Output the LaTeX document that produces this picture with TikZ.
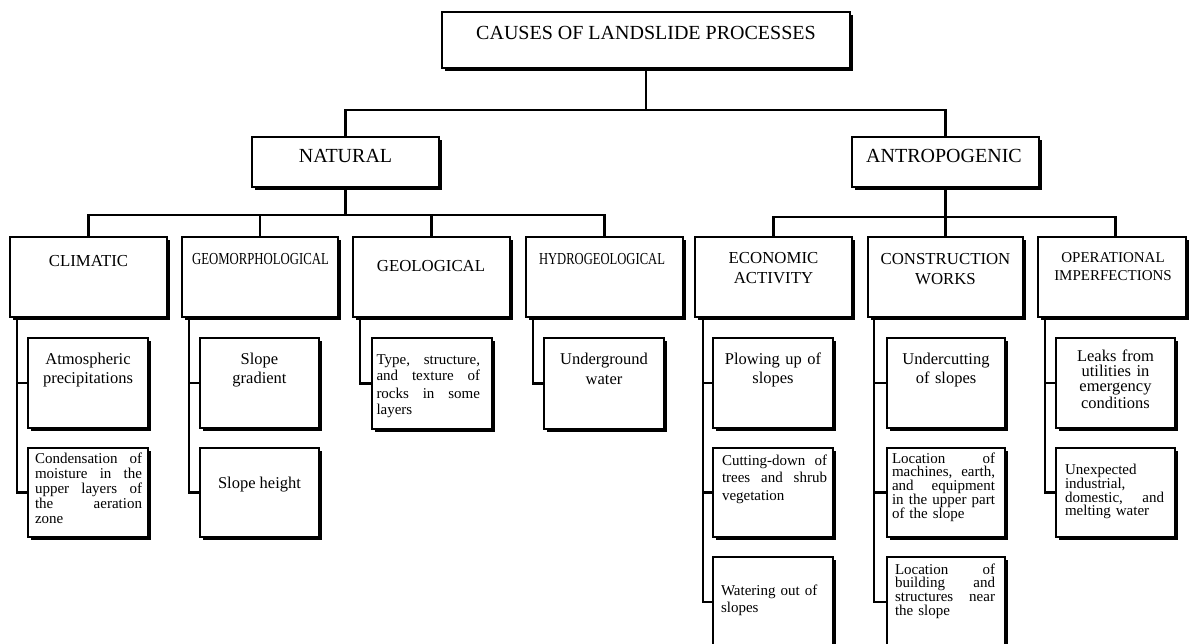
\documentclass[tikz,border=0pt]{standalone}
\usepackage{fontspec}
\setmainfont{Liberation Serif}
\usepackage{graphicx}
\usetikzlibrary{calc}
\newcommand{\jl}[2]{\leavevmode\hbox to #1{\spaceskip=0.25em plus 1fil\relax #2}}
\tikzset{
  box/.style={draw, line width=2.6pt, fill=white, inner sep=0pt, outer sep=0pt, anchor=north west},
  shadeline/.style={line width=1.8pt},
  conn/.style={line width=2.2pt},
  ctext/.style={inner sep=0pt, outer sep=0pt, anchor=base, align=center},
  ltext/.style={inner sep=0pt, outer sep=0pt, anchor=base west, align=left},
  fbig/.style={font=\fontsize{20}{24}\selectfont},
  fcat/.style={font=\fontsize{16.8}{20}\selectfont},
  fop/.style={font=\fontsize{15}{18}\selectfont},
  fleaf/.style={font=\fontsize{16.5}{#1}\selectfont},
  fsmall/.style={font=\fontsize{15}{#1}\selectfont},
}
\newcommand{\mybox}[5]{%
  \node[box, minimum width={(#4-#2)*1pt}, minimum height={(#5-#3)*1pt}] (#1) at (#2,#3) {};
  \draw[shadeline] ($(#1.south west)+(3pt,-2pt)$) -- ($(#1.south east)+(2pt,-2pt)$) -- ($(#1.north east)+(2pt,-3pt)$);
}
\begin{document}
\begin{tikzpicture}[x=1pt,y=-1pt]
\useasboundingbox (0,0) rectangle (1189,644);
% ---------- boxes ----------
\mybox{title}{442}{12}{850}{68}
\mybox{nat}{252}{137}{439}{187}
\mybox{ant}{852}{137}{1039}{187}
\mybox{clim}{10}{237}{167}{317}
\mybox{geom}{182}{237}{338}{317}
\mybox{geol}{353}{237}{510}{317}
\mybox{hyd}{526}{237}{683}{317}
\mybox{econ}{695}{237}{852}{317}
\mybox{cons}{868}{237}{1023}{317}
\mybox{oper}{1038}{237}{1186}{317}
\mybox{c1}{28}{338}{148}{428}
\mybox{c2}{28}{448}{148}{537}
\mybox{g1}{200}{338}{319}{428}
\mybox{g2}{200}{448}{319}{537}
\mybox{l1}{372}{338}{492}{429}
\mybox{h1}{544}{338}{664}{429}
\mybox{e1}{713}{338}{833}{428}
\mybox{e2}{713}{448}{833}{537}
\mybox{e3}{713}{557}{833}{647}
\mybox{k1}{887}{338}{1005}{428}
\mybox{k2}{887}{448}{1005}{537}
\mybox{k3}{887}{557}{1005}{647}
\mybox{o1}{1056}{338}{1175}{428}
\mybox{o2}{1056}{448}{1175}{537}
% ---------- connectors ----------
\coordinate (j0) at (646,110);
\draw[conn] (title.south) -- (j0);
\draw[conn] (nat.north) |- (j0) -| (ant.north);
\coordinate (j1) at (345.5,215);
\draw[conn] (nat.south) -- (j1);
\draw[conn] (clim.north) |- (j1) -| (hyd.north);
\draw[conn] (geom.north) -- (geom.north |- j1);
\draw[conn] (geol.north) -- (geol.north |- j1);
\coordinate (j2) at (945.5,217);
\coordinate (opTop) at ($(oper.north)+(3.5pt,0)$);
\draw[conn] (ant.south) -- (j2);
\draw[conn] (econ.north) |- (j2) -| (opTop);
\draw[conn] (cons.north) -- (j2);
% spines
\coordinate (cS) at ($(clim.south west)+(7pt,0)$);
\draw[conn] (cS) |- (c2.west);
\draw[conn] (c1.west) -- (c1.west -| cS);
\coordinate (gS) at ($(geom.south west)+(7pt,0)$);
\draw[conn] (gS) |- (g2.west);
\draw[conn] (g1.west) -- (g1.west -| gS);
\coordinate (lS) at ($(geol.south west)+(7pt,0)$);
\draw[conn] (lS) |- (l1.west);
\coordinate (hS) at ($(hyd.south west)+(7pt,0)$);
\draw[conn] (hS) |- (h1.west);
\coordinate (eS) at ($(econ.south west)+(8pt,0)$);
\draw[conn] (eS) |- (e3.west);
\draw[conn] (e1.west) -- (e1.west -| eS);
\draw[conn] (e2.west) -- (e2.west -| eS);
\coordinate (kS) at ($(cons.south west)+(6pt,0)$);
\draw[conn] (kS) |- (k3.west);
\draw[conn] (k1.west) -- (k1.west -| kS);
\draw[conn] (k2.west) -- (k2.west -| kS);
\coordinate (oS) at ($(oper.south west)+(7pt,0)$);
\draw[conn] (oS) |- (o2.west);
\draw[conn] (o1.west) -- (o1.west -| oS);
% ---------- texts ----------
\node[ctext, fbig] (titleT) at (646,40) {CAUSES OF LANDSLIDE PROCESSES};
\node[ctext, fbig] (natT) at (345.5,163) {NATURAL};
\node[ctext, fbig] (antT) at (944,163) {ANTROPOGENIC};
\node[ctext, fcat] (climT) at (88.5,267) {CLIMATIC};
\node[ctext, fcat] (geomT) at (260.5,265) {\scalebox{0.76}[1]{GEOMORPHOLOGICAL}};
\node[ctext, fcat] (geolT) at (431,272) {GEOLOGICAL};
\node[ctext, fcat] (hydT) at (602,265) {\scalebox{0.75}[1]{HYDROGEOLOGICAL}};
\node[ctext, fcat, text width=150pt] (econT) at (773.5,264) {ECONOMIC\\ACTIVITY};
\node[ctext, fcat, text width=150pt] (consT) at (945.5,265) {CONSTRUCTION\\WORKS};
\node[ctext, fop, text width=148pt] (operT) at (1113,263) {OPERATIONAL\\IMPERFECTIONS};
% leaves
\node[ctext, fleaf=18.5, text width=116pt] (c1T) at (88,365) {Atmospheric\\precipitations};
\node[ltext, fsmall=15, text width=108pt] (c2T) at (35,463) {\jl{107pt}{Condensation of}\\\jl{107pt}{moisture in the}\\\jl{107pt}{upper layers of}\\\jl{107pt}{the aeration}\\zone};
\node[ctext, fleaf=19, text width=116pt] (g1T) at (259.5,365) {Slope\\gradient};
\node[ctext, fleaf=19] (g2T) at (259.5,488) {Slope height};
\node[ltext, fsmall=17, text width=104pt] (l1T) at (376.5,364) {\jl{103.5pt}{Type, structure,}\\\jl{103.5pt}{and texture of}\\\jl{103.5pt}{rocks in some}\\layers};
\node[ctext, fleaf=20, text width=116pt] (h1T) at (604,365) {Underground\\water};
\node[ctext, fleaf=18, text width=116pt] (e1T) at (773,365) {Plowing up of\\slopes};
\node[ltext, fsmall=17.5, text width=106pt] (e2T) at (722,465) {\jl{105pt}{Cutting-down of}\\\jl{105pt}{trees and shrub}\\vegetation};
\node[ltext, fsmall=17.5, text width=106pt] (e3T) at (721,595) {Watering out of\\slopes};
\node[ctext, fleaf=18, text width=116pt] (k1T) at (946,365) {Undercutting\\of slopes};
\node[ltext, fsmall=13.7, text width=104pt] (k2T) at (892,463) {\jl{103pt}{Location of}\\\jl{103pt}{machines, earth,}\\\jl{103pt}{and equipment}\\\jl{103pt}{in the upper part}\\of the slope};
\node[ltext, fsmall=13.7, text width=101pt] (k3T) at (895,574) {\jl{100pt}{Location of}\\\jl{100pt}{building and}\\\jl{100pt}{structures near}\\the slope};
\node[ctext, fleaf=15, text width=116pt] (o1T) at (1115.5,362) {Leaks from\\utilities in\\emergency\\conditions};
\node[ltext, fsmall=13.5, text width=100pt] (o2T) at (1065,474) {Unexpected\\industrial,\\\jl{99pt}{domestic, and}\\melting water};
\end{tikzpicture}
\end{document}
